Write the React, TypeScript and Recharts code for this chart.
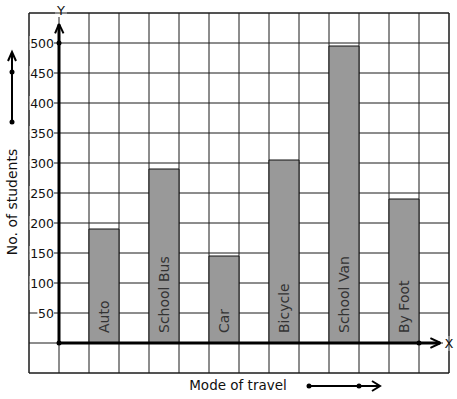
import { BarChart, Bar, XAxis, YAxis, CartesianGrid, ReferenceLine, ReferenceDot, ReferenceArea, LabelList } from 'recharts'

const modes = ['Auto', 'School Bus', 'Car', 'Bicycle', 'School Van', 'By Foot']
const students = [190, 290, 145, 305, 495, 240]
const yTicks = [-50, 0, 50, 100, 150, 200, 250, 300, 350, 400, 450, 500, 550]
const shownTicks = [50, 100, 150, 200, 250, 300, 350, 400, 450, 500]
const columnTicks = [0, 1, 2, 3, 4, 5, 6, 7, 8, 9, 10, 11, 12, 13, 14]

// the squared paper: two empty columns before the first bar, then bar / gap pairs
const data: { slot: string; col: number; students?: number }[] = [
  { slot: 'pad0', col: 0 },
  { slot: 'pad1', col: 1 },
]
modes.forEach((m, i) => {
  data.push({ slot: m, col: data.length, students: students[i] })
  data.push({ slot: 'gap' + i, col: data.length })
})

const FONT = 'DejaVu Sans, sans-serif'
const LINE = '#1a1a1a'

function YTick(props: any) {
  const { x, y, payload } = props
  if (!shownTicks.includes(payload.value)) return null
  const label = String(payload.value)
  const w = label.length * 7.8 + 1
  const right = x + 25
  return (
    <g>
      <rect x={right - w} y={y - 7} width={w} height={14} fill="#fff" />
      <text x={right} y={y} textAnchor="end" dominantBaseline="central" fontSize={12.5} fontFamily={FONT} fill="#111">
        {label}
      </text>
    </g>
  )
}

function BarText(props: any) {
  const { x, y, width, height, value } = props
  if (!modes.includes(value)) return null
  const cx = x + width / 2
  const by = y + height - 10
  return (
    <text x={cx} y={by} transform={`rotate(-90 ${cx} ${by})`} dominantBaseline="central" fontSize={14} fontFamily={FONT} fill="#333">
      {value}
    </text>
  )
}

export default function App() {
  return (
    <div style={{ position: 'absolute', left: 0, top: 0, background: '#fff' }}>
      <BarChart width={457} height={399} data={data} margin={{ top: 13, right: 8, bottom: 26, left: 29 }} barCategoryGap={0}>
        <XAxis xAxisId="cat" dataKey="slot" hide />
        <XAxis xAxisId="num" dataKey="col" type="number" domain={[0, 14]} ticks={columnTicks} allowDataOverflow hide />
        <YAxis
          type="number"
          domain={[-50, 550]}
          ticks={yTicks}
          allowDataOverflow
          mirror
          axisLine={false}
          tickLine={false}
          tickSize={0}
          tickMargin={0}
          tick={<YTick />}
        />
        <CartesianGrid xAxisId="num" stroke={LINE} strokeOpacity={1} />
        <ReferenceArea xAxisId="num" x1={0} x2={14} y1={-50} y2={550} fill="none" stroke={LINE} />
        <Bar xAxisId="cat" dataKey="students" fill="#999999" stroke="#111" strokeWidth={1} isAnimationActive={false}>
          <LabelList dataKey="slot" content={<BarText />} />
        </Bar>
        {/* thick axes with arrow heads */}
        <ReferenceLine xAxisId="num" segment={[{ x: 1, y: 0 }, { x: 1, y: 531 }]} stroke="#000" strokeWidth={3} ifOverflow="visible" />
        <ReferenceLine xAxisId="num" segment={[{ x: 0.87, y: 516 }, { x: 1, y: 532 }]} stroke="#000" strokeWidth={2} ifOverflow="visible" />
        <ReferenceLine xAxisId="num" segment={[{ x: 1.15, y: 516 }, { x: 1, y: 532 }]} stroke="#000" strokeWidth={2} ifOverflow="visible" />
        <ReferenceLine xAxisId="num" segment={[{ x: 1, y: 0 }, { x: 13.7, y: 0 }]} stroke="#000" strokeWidth={3} ifOverflow="visible" />
        <ReferenceLine xAxisId="num" segment={[{ x: 13.38, y: 8 }, { x: 13.72, y: 0 }]} stroke="#000" strokeWidth={2} ifOverflow="visible" />
        <ReferenceLine xAxisId="num" segment={[{ x: 13.38, y: -8 }, { x: 13.72, y: 0 }]} stroke="#000" strokeWidth={2} ifOverflow="visible" />
        <ReferenceDot xAxisId="num" x={1} y={0} r={2.5} fill="#000" stroke="none" />
        <ReferenceDot xAxisId="num" x={1} y={500} r={2.5} fill="#000" stroke="none" />
        <ReferenceDot xAxisId="num" x={13} y={0} r={2.5} fill="#000" stroke="none" />
        {/* axis letters */}
        <rect x={55} y={4} width={12} height={13} fill="#fff" />
        <text x={61} y={10} textAnchor="middle" dominantBaseline="central" fontSize={13} fontFamily={FONT} fill="#111">Y</text>
        <rect x={443} y={336} width={12} height={15} fill="#fff" />
        <text x={449} y={343} textAnchor="middle" dominantBaseline="central" fontSize={13} fontFamily={FONT} fill="#111">X</text>
        {/* side and bottom captions */}
        <text x={12} y={202} transform="rotate(-90 12 202)" textAnchor="middle" dominantBaseline="central" fontSize={14} fontFamily={FONT} fill="#111">
          No. of students
        </text>
        <line x1={12} y1={122} x2={12} y2={53} stroke="#000" strokeWidth={2} />
        <polyline points="8,61 12,52 16,61" fill="none" stroke="#000" strokeWidth={2} />
        <circle cx={12} cy={72} r={2.5} fill="#000" />
        <circle cx={12} cy={122} r={2.5} fill="#000" />
        <text x={238} y={385} textAnchor="middle" dominantBaseline="central" fontSize={13.5} fontFamily={FONT} fill="#111">
          Mode of travel
        </text>
        <line x1={309} y1={386} x2={379} y2={386} stroke="#000" strokeWidth={2} />
        <polyline points="372,381 380,386 372,391" fill="none" stroke="#000" strokeWidth={2} />
        <circle cx={309} cy={386} r={2.5} fill="#000" />
        <circle cx={359} cy={386} r={2.5} fill="#000" />
      </BarChart>
    </div>
  )
}
